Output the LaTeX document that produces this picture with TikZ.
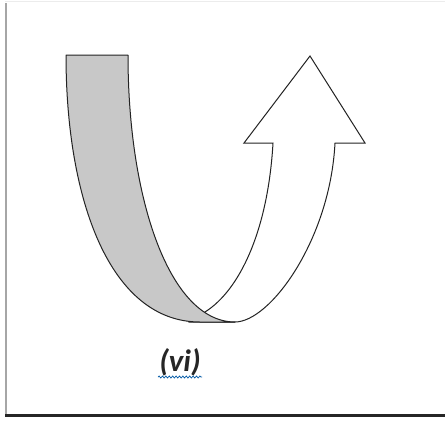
\documentclass[tikz,border=0pt]{standalone}
\usepackage{fontspec}
\setmainfont{Carlito}
\usetikzlibrary{decorations.pathmorphing}
\definecolor{BandGray}{RGB}{200,200,200}
\definecolor{EdgeGray}{RGB}{35,35,35}
\tikzset{
  bandfill/.style={draw=EdgeGray,line width=1pt,fill=BandGray,line join=round},
  arrowfill/.style={draw=EdgeGray,line width=1pt,fill=white,line join=miter},
  labeltext/.style={font=\fontsize{31}{36}\selectfont\bfseries\itshape,
    text=black!85,inner sep=0pt},
  squiggle/.style={draw=teal!70!blue,line width=0.7pt,decorate,
    decoration={snake,amplitude=1pt,segment length=3.4pt}},
}

\begin{document}
\begin{tikzpicture}[x=1pt,y=-1pt]
  \useasboundingbox (0,0) rectangle (445,424);
  \fill[white] (0,0) rectangle (445,424);
  % page frame
  \draw[gray!15,line width=0.8pt] (5,1) -- (445,1);
  \draw[gray!70,line width=1.6pt] (6,3) -- (6,415);
  \draw[black!85,line width=3.2pt] (5,415.5) -- (445,415.5);
  % points of the arrow
  \coordinate (headL) at (244,143);
  \coordinate (tip) at (310,56);
  \coordinate (headR) at (365,143);
  \coordinate (shaftIn) at (273,143);
  \coordinate (shaftOut) at (335,143);
  \coordinate (bendIn) at (205,312);
  \coordinate (bendOut) at (235,322);
  % white part, bent up into the arrow
  \path[arrowfill] (bendIn) .. controls (240,290) and (268,230) .. (shaftIn)
    -- (headL) -- (tip) -- (headR) -- (shaftOut)
    .. controls (330,240) and (270,322) .. (bendOut) -- (190,322) -- cycle;
  % grey part in front
  \coordinate (topL) at (66,55);
  \coordinate (topR) at (128,55);
  \path[bandfill] (topL) -- (topR)
    .. controls (128,200) and (170,322) .. (bendOut)
    -- (200,322) .. controls (110,322) and (66,200) .. (topL) -- cycle;
  % label
  \node[labeltext] (caption) at (180,362) {(vi)};
  \draw[squiggle] ([xshift=-22pt,yshift=-15pt]caption.center)
    -- ([xshift=22pt,yshift=-15pt]caption.center);
\end{tikzpicture}
\end{document}
